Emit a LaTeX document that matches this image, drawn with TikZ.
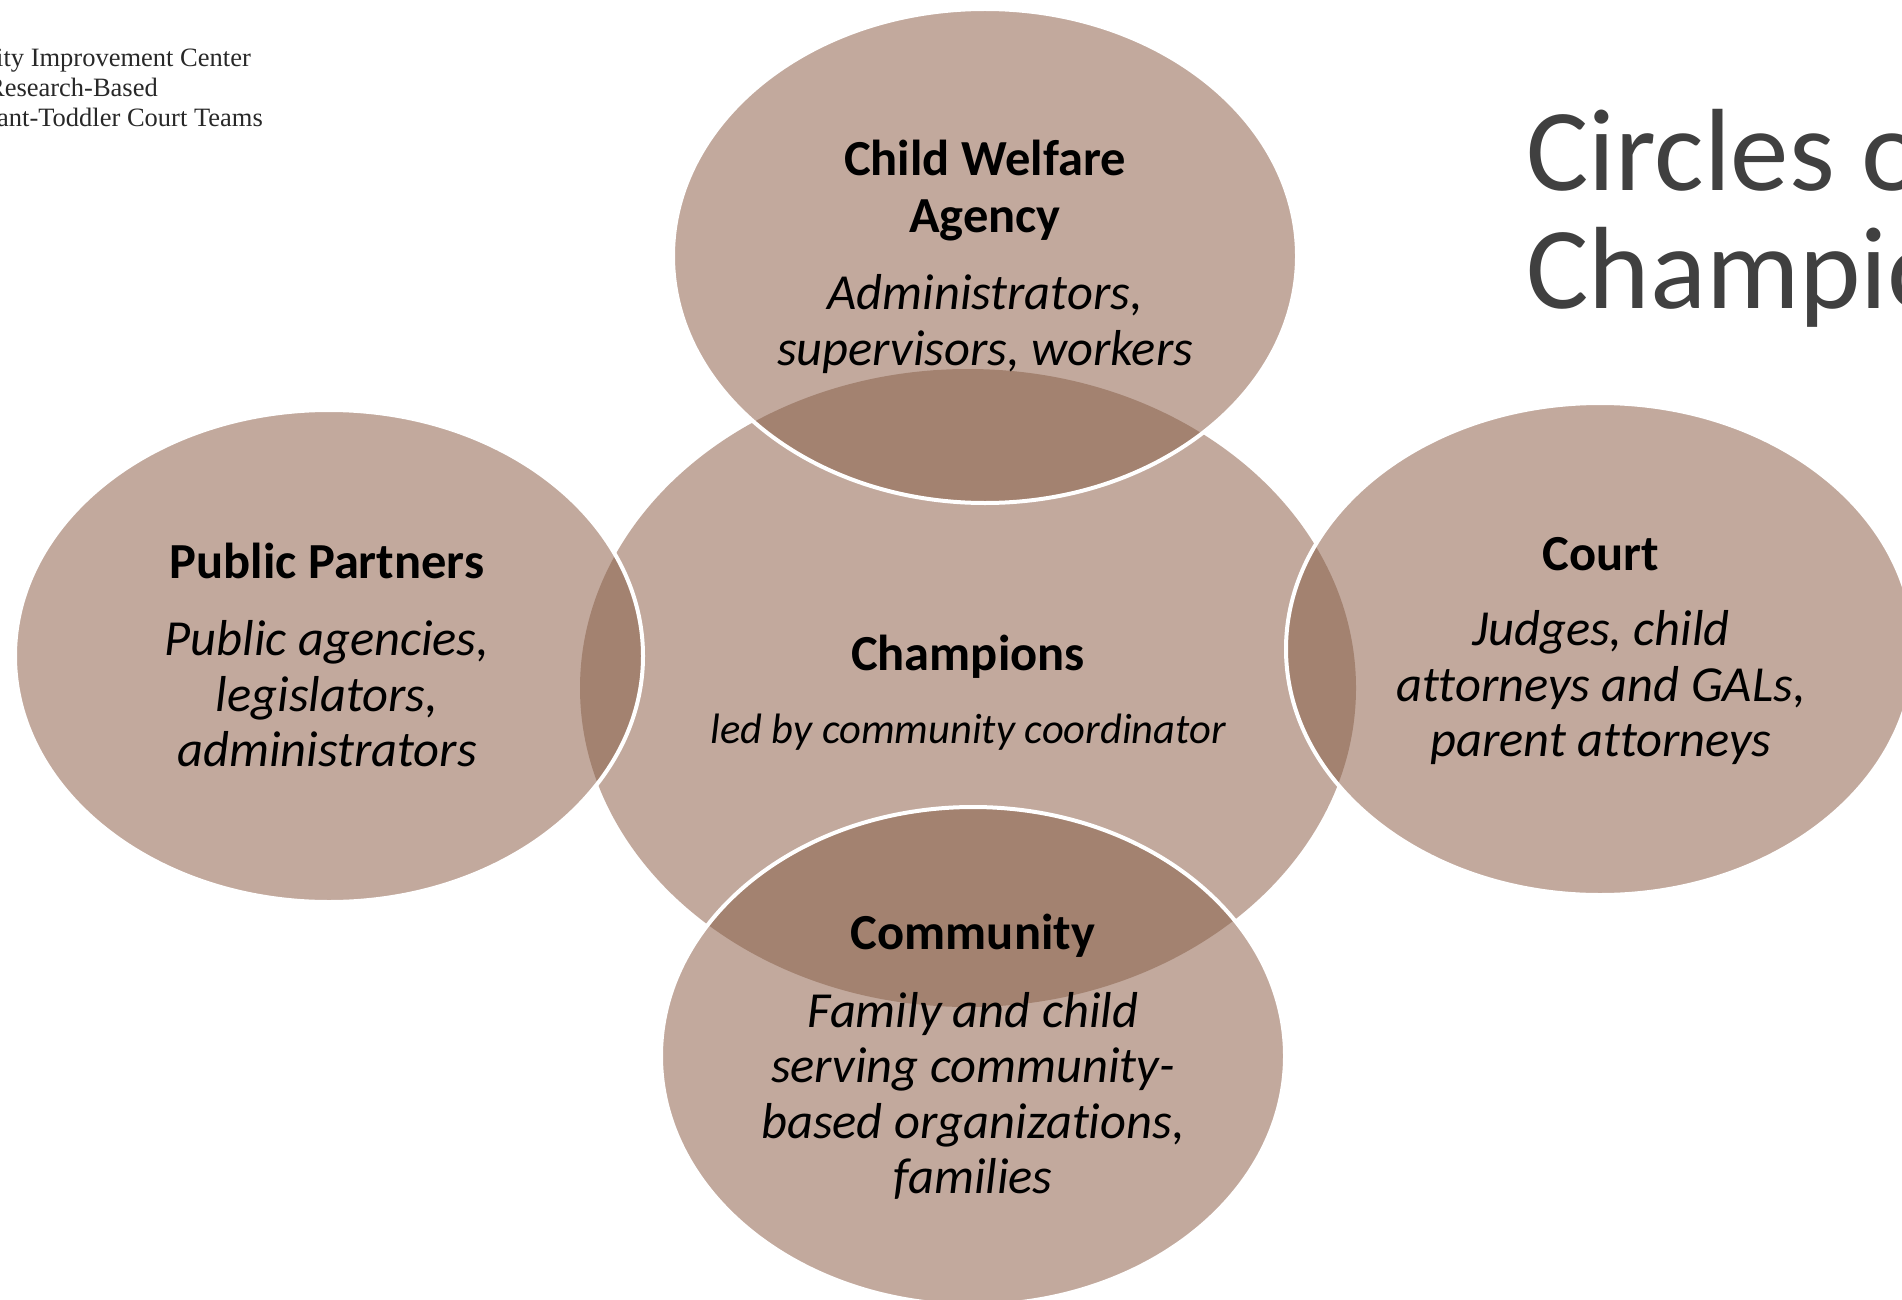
\documentclass[tikz,border=0pt]{standalone}
\usepackage{fontspec}
\setmainfont[Ligatures=NoCommon]{Carlito}
\newfontfamily\logofont{Liberation Serif}
\usetikzlibrary{positioning}
\definecolor{circlefill}{RGB}{194,169,157}
\definecolor{overlapfill}{RGB}{163,130,112}
\definecolor{titlegray}{RGB}{64,64,64}
\definecolor{logogray}{RGB}{40,40,40}
% the five circles (pixel units)
\def\champs{(968,688) ellipse [x radius=388, y radius=319]}
\def\welfare{(985,256) ellipse [x radius=312, y radius=247]}
\def\partners{(329,656) ellipse [x radius=314, y radius=246]}
\def\court{(1600,649) ellipse [x radius=314, y radius=246]}
\def\community{(973,1056) ellipse [x radius=312, y radius=249]}

\begin{document}
\begin{tikzpicture}[x=1pt, y=-1pt,
  heading/.style={font=\fontsize{50.5}{57}\selectfont\bfseries, align=center},
  detail/.style={font=\fontsize{50.5}{55.5}\selectfont\itshape, align=center},
  rim/.style={white, line width=4},
  title/.style={font=\fontsize{117}{118}\selectfont, text=titlegray, inner sep=0},
  logo/.style={font=\logofont\fontsize{26.5}{29}\selectfont, text=logogray, inner sep=0}]
\fill[white] (0,0) rectangle (1902,1300);
\useasboundingbox (0,0) rectangle (1902,1300);

% circles
\fill[circlefill] \champs;
\fill[circlefill] \welfare;
\fill[circlefill] \partners;
\fill[circlefill] \court;
\fill[circlefill] \community;

% darker overlaps with the middle circle
\begin{scope}
  \clip \champs;
  \fill[overlapfill] \welfare;
  \fill[overlapfill] \partners;
  \fill[overlapfill] \court;
  \fill[overlapfill] \community;
\end{scope}
\draw[rim] \welfare;
\draw[rim] \partners;
\draw[rim] \court;
\draw[rim] \community;

% texts
\node[heading] (welfarehead) at (985,191) {Child Welfare\\Agency};
\node[detail] (welfaretext) at (985,324) {Administrators,\\supervisors, workers};
\node[heading] (partnershead) at (327,561) {Public Partners};
\node[detail] (partnerstext) at (327,694) {Public agencies,\\legislators,\\administrators};
\node[heading] (champshead) at (968,657) {Champions};
\node[detail, font=\fontsize{42.5}{48}\selectfont\itshape] (champstext) at (968,732) {led by community coordinator};
\node[heading] (courthead) at (1601,554) {Court};
\node[detail] (courttext) at (1601,688) {Judges, child\\attorneys and GALs,\\parent attorneys};
\node[heading] (communityhead) at (973,936) {Community};
\node[detail] (communitytext) at (973,1096) {Family and child\\serving community-\\based organizations,\\families};

% title
\node[title, anchor=base west] (titletop) at (1526,190) {Circles of};
\node[title, anchor=base west] (titlebottom) at (1526,308) {Champions};

% logo lines
\node[logo, anchor=base east] (logotop) at (251,67) {Quality Improvement Center};
\node[logo, anchor=base east] (logomid) at (158,97) {for Research-Based};
\node[logo, anchor=base east] (logobottom) at (263,127) {Infant-Toddler Court Teams};
\end{tikzpicture}
\end{document}
